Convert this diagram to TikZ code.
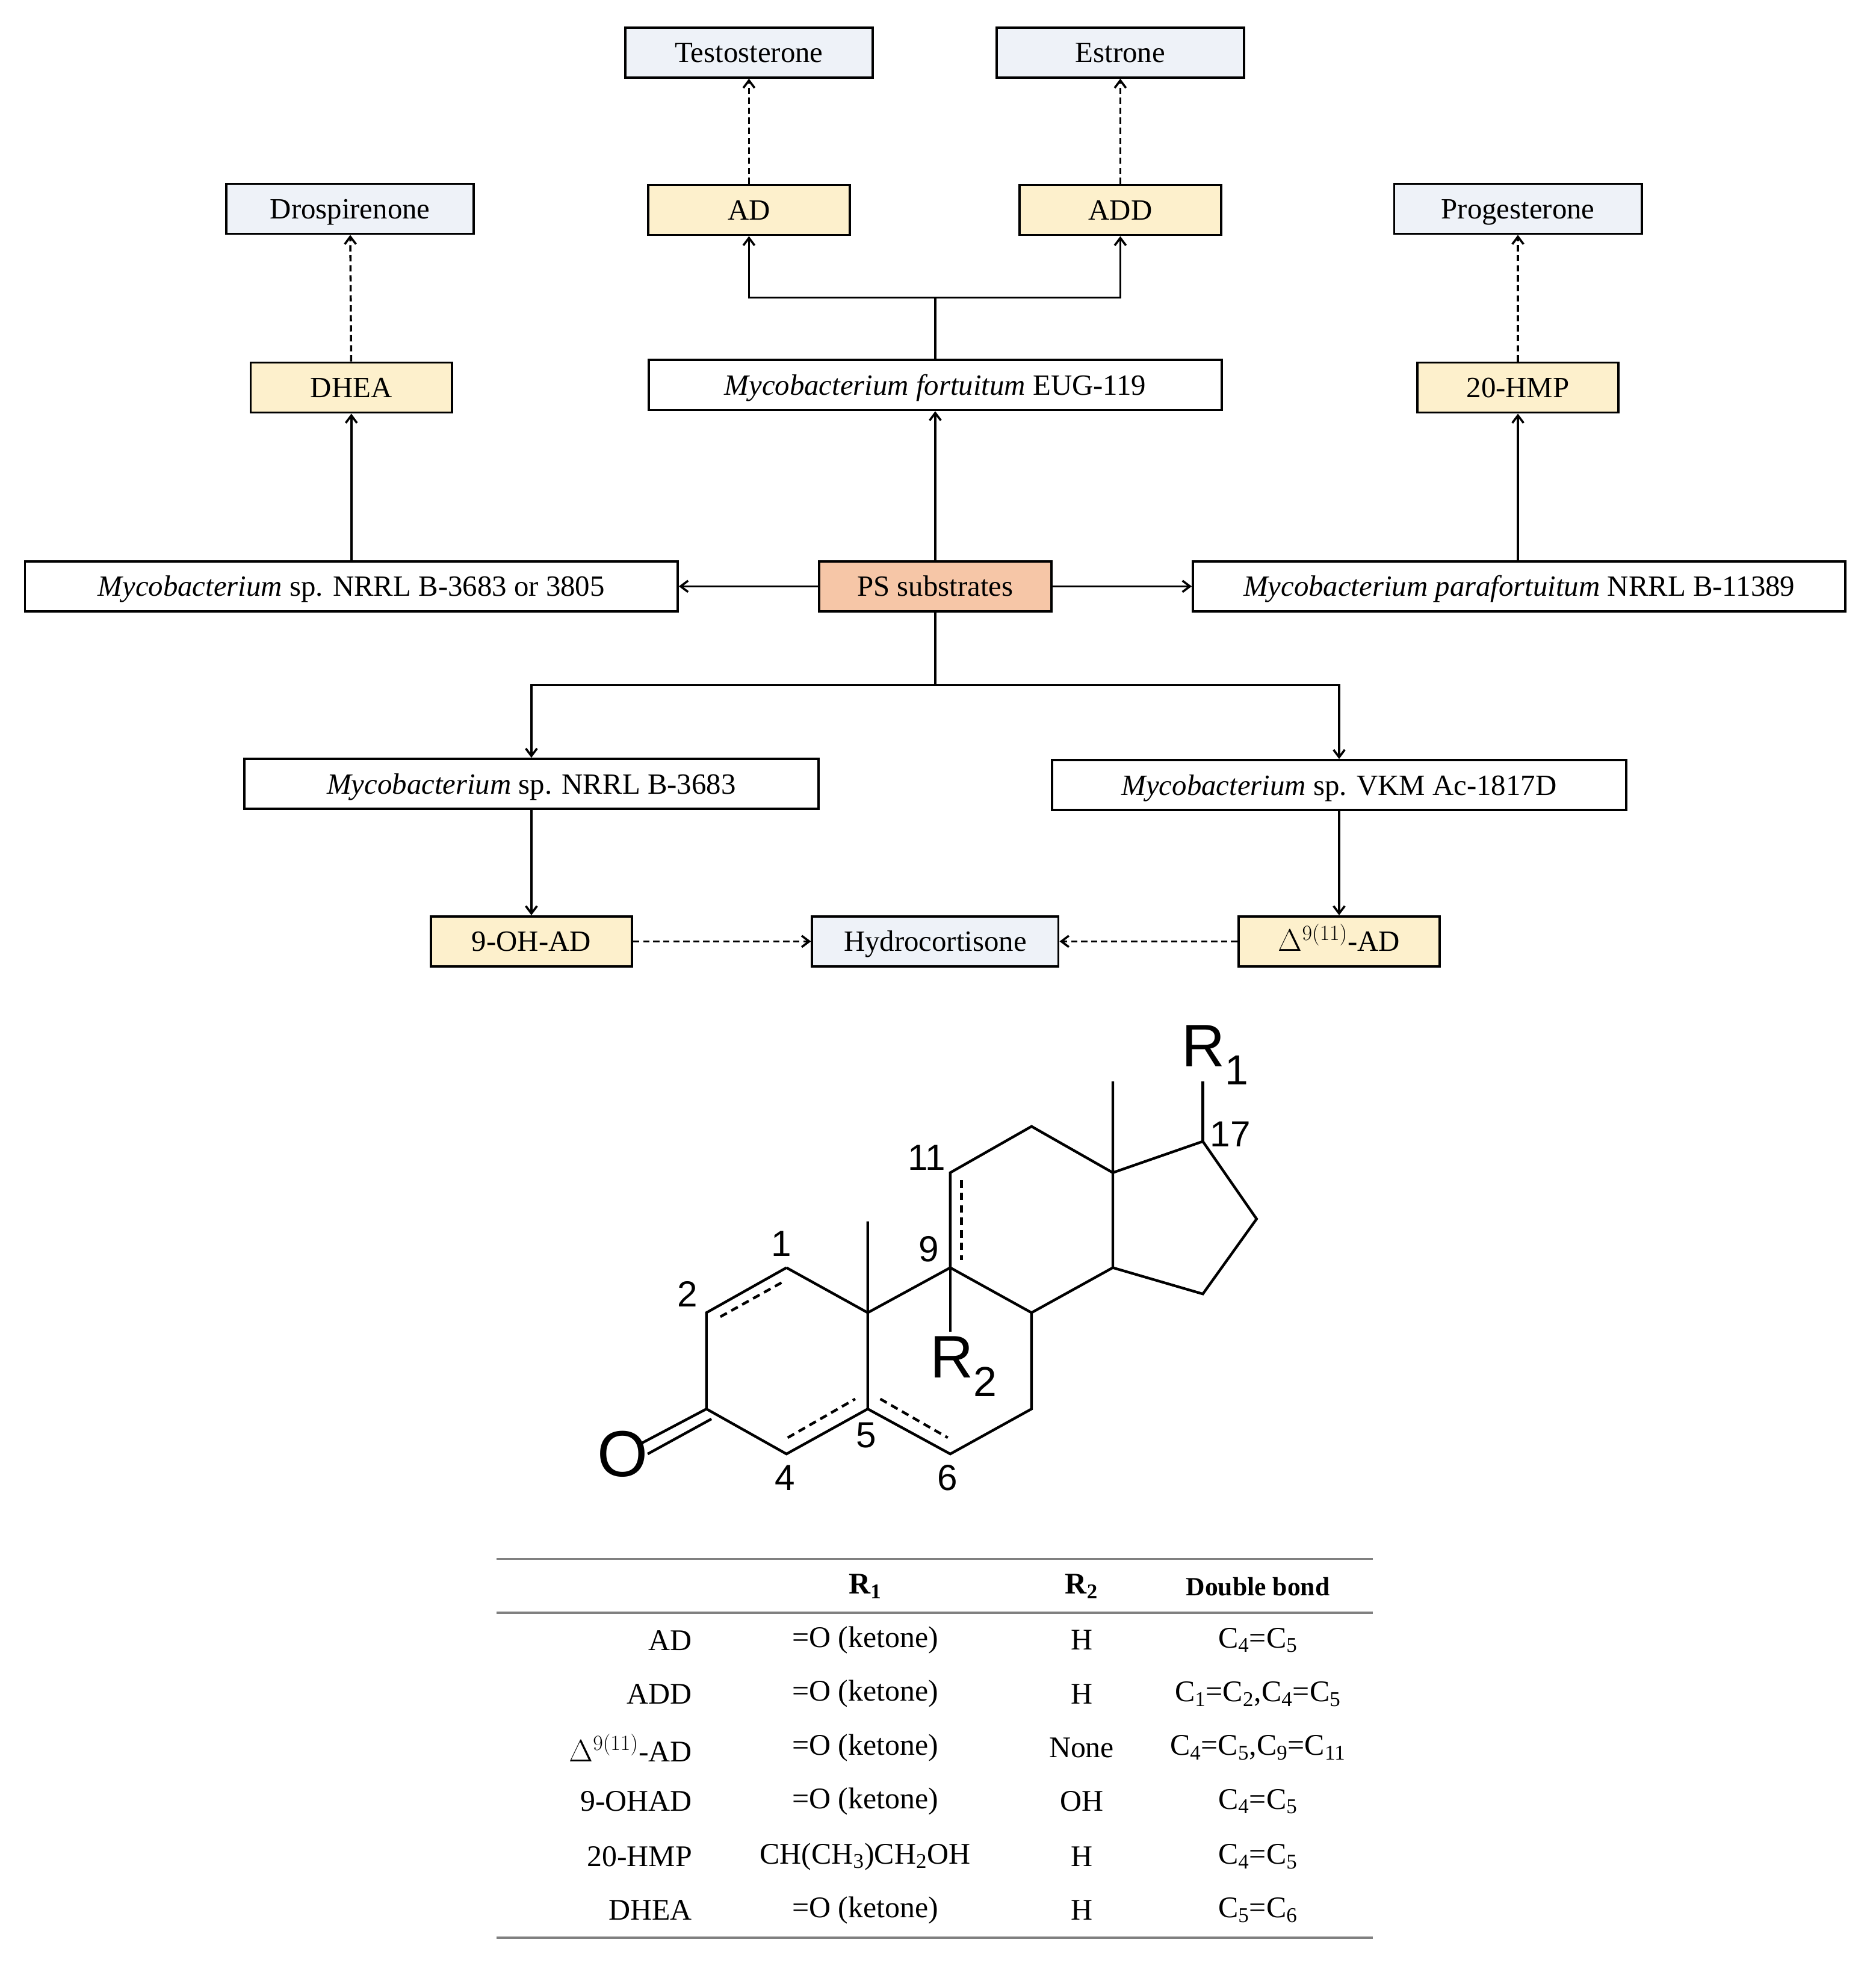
\documentclass[tikz,border=0pt]{standalone}
\usepackage{fontspec}
\setmainfont{Liberation Serif}
\newfontfamily\arialf{Liberation Sans}
\usetikzlibrary{arrows.meta}
\definecolor{prodfill}{HTML}{EEF2F8}
\definecolor{intfill}{HTML}{FDF0CC}
\definecolor{psfill}{HTML}{F6C6A7}
\begin{document}
\begin{tikzpicture}[x=1pt,y=-1pt,
  box/.style={draw,line width=1.8pt,minimum height=40pt,inner sep=0pt,text height=16pt,text depth=0pt,font=\fontsize{23.5}{25}\selectfont},
  prod/.style={box,fill=prodfill,minimum width=198pt},
  inter/.style={box,fill=intfill,minimum width=161pt},
  bact/.style={box,fill=white},
  arr/.style={line width=1.7pt,-{Straight Barb[length=6pt,width=9pt]}},
  darr/.style={arr,dashed,dash pattern=on 5pt off 3pt},
  bond/.style={line width=2.1pt},
  dbond/.style={line width=2.1pt,dash pattern=on 6pt off 4pt},
  num/.style={font=\arialf\fontsize{29}{30}\selectfont},
  cell/.style={font=\fontsize{24}{26}\selectfont}]
\useasboundingbox (0,0) rectangle (1500,1575);
% boxes
\node[prod] (testo) at (599,42) {Testosterone};
\node[prod] (estr) at (896,42) {Estrone};
\node[prod] (dros) at (280,167) {Drospirenone};
\node[inter] (ad) at (599,168) {AD};
\node[inter] (add) at (896,168) {ADD};
\node[prod] (prog) at (1214,167) {Progesterone};
\node[inter] (dhea) at (281,310) {DHEA};
\node[bact,minimum width=458pt] (fort) at (748,308) {\textit{Mycobacterium fortuitum} EUG-119};
\node[inter] (hmp) at (1214,310) {20-HMP};
\node[bact,minimum width=522pt] (msp) at (281,469) {\textit{Mycobacterium} sp. NRRL B-3683 or 3805};
\node[box,fill=psfill,minimum width=186pt] (ps) at (748,469) {PS substrates};
\node[bact,minimum width=522pt] (para) at (1215,469) {\textit{Mycobacterium parafortuitum} NRRL B-11389};
\node[bact,minimum width=459pt] (nrrl) at (425,627) {\textit{Mycobacterium} sp. NRRL B-3683};
\node[bact,minimum width=459pt] (vkm) at (1071,628) {\textit{Mycobacterium} sp. VKM Ac-1817D};
\node[inter] (ohad) at (425,753) {9-OH-AD};
\node[prod,minimum width=197pt] (hydro) at (748,753) {Hydrocortisone};
\node[inter] (dad) at (1071,753) {$\Delta^{9(11)}$-AD};
% connectors
\coordinate (fj) at (748,238);
\coordinate (bj) at (748,548);
\draw[darr] (ad) -- (testo);
\draw[darr] (add) -- (estr);
\draw[darr] (dhea) -- (dros);
\draw[darr] (hmp) -- (prog);
\draw[line width=1.7pt] (fort.north) -- (fj);
\draw[arr] (fj) -| (ad.south);
\draw[arr] (fj) -| (add.south);
\draw[arr] (ps) -- (fort);
\draw[arr] (msp) -- (dhea);
\draw[arr] (para.north -| hmp) -- (hmp);
\draw[arr] (ps) -- (msp);
\draw[arr] (ps) -- (para);
\draw[line width=1.7pt] (ps.south) -- (bj);
\draw[arr] (bj) -| (nrrl.north);
\draw[arr] (bj) -| (vkm.north);
\draw[arr] (nrrl) -- (ohad);
\draw[arr] (vkm) -- (dad);
\draw[darr] (ohad) -- (hydro);
\draw[darr] (dad) -- (hydro);
% molecule
\coordinate (c1) at (629,1014); \coordinate (c2) at (565,1050);
\coordinate (c3) at (565,1127); \coordinate (c4) at (629,1163);
\coordinate (c5) at (694,1127); \coordinate (c10) at (694,1050);
\coordinate (m19) at (694,977);
\coordinate (c9) at (760,1014); \coordinate (c11) at (760,938);
\coordinate (c12) at (825,901); \coordinate (c13) at (890,938);
\coordinate (m18) at (890,865);
\coordinate (c14) at (890,1014); \coordinate (c8) at (825,1050);
\coordinate (c7) at (825,1127); \coordinate (c6) at (760,1163);
\coordinate (c17) at (962,913); \coordinate (c16) at (1005,975);
\coordinate (c15) at (962,1035);
\coordinate (r1e) at (962,865); \coordinate (r2e) at (760,1065);
\draw[bond,line join=miter] (c1)--(c2)--(c3)--(c4)--(c5)--(c10)--(c1);
\draw[bond] (c10)--(m19) (c10)--(c9)--(c11)--(c12)--(c13)--(c14)--(c8)--(c9);
\draw[bond] (c5)--(c6)--(c7)--(c8);
\draw[bond] (c13)--(m18) (c13)--(c17)--(c16)--(c15)--(c14);
\draw[bond] (c17)--(r1e) (c9)--(r2e);
% C3=O double bond
\draw[bond] (c3)--(512,1155);
\draw[bond] (569,1135)--(518,1163);
\draw[dbond] (625,1026)--(573,1055);
\draw[dbond] (630,1150)--(684,1119);
\draw[dbond] (704,1119)--(758,1150);
\draw[dbond] (769,944)--(769,1008);
\node[font=\arialf\fontsize{52}{52}\selectfont] at (498,1163) {O};
\node[font=\arialf\fontsize{48}{48}\selectfont] at (972,844) {R\textsubscript{1}};
\node[font=\arialf\fontsize{48}{48}\selectfont] at (771,1093) {R\textsubscript{2}};
\node[num] at (625,995) {1};
\node[num] at (550,1035) {2};
\node[num] at (628,1182) {4};
\node[num] at (693,1148) {5};
\node[num] at (758,1182) {6};
\node[num] at (743,999) {9};
\node[num] at (741,926) {11};
\node[num] at (984,907) {17};
% table
\draw[gray,line width=1.8pt] (397,1247)--(1098,1247) (397,1290)--(1098,1290) (397,1550)--(1098,1550);
\node[cell] at (692,1269) {\textbf{R\textsubscript{1}}};
\node[cell] at (865,1269) {\textbf{R\textsubscript{2}}};
\node[cell,font=\fontsize{21}{22}\selectfont\bfseries] at (1006,1269) {Double bond};
\foreach \y/\n/\ra/\rb/\db in {
 1312/AD/{=O (ketone)}/H/{C\textsubscript{4}=C\textsubscript{5}},
 1355/ADD/{=O (ketone)}/H/{C\textsubscript{1}=C\textsubscript{2},C\textsubscript{4}=C\textsubscript{5}},
 1398/{$\Delta^{9(11)}$-AD}/{=O (ketone)}/None/{C\textsubscript{4}=C\textsubscript{5},C\textsubscript{9}=C\textsubscript{11}},
 1441/9-OHAD/{=O (ketone)}/OH/{C\textsubscript{4}=C\textsubscript{5}},
 1485/20-HMP/{CH(CH\textsubscript{3})CH\textsubscript{2}OH}/H/{C\textsubscript{4}=C\textsubscript{5}},
 1528/DHEA/{=O (ketone)}/H/{C\textsubscript{5}=C\textsubscript{6}}}{
  \node[cell,anchor=east] at (557,\y) {\n};
  \node[cell] at (692,\y) {\ra};
  \node[cell] at (865,\y) {\rb};
  \node[cell] at (1006,\y) {\db};
}
\end{tikzpicture}
\end{document}
